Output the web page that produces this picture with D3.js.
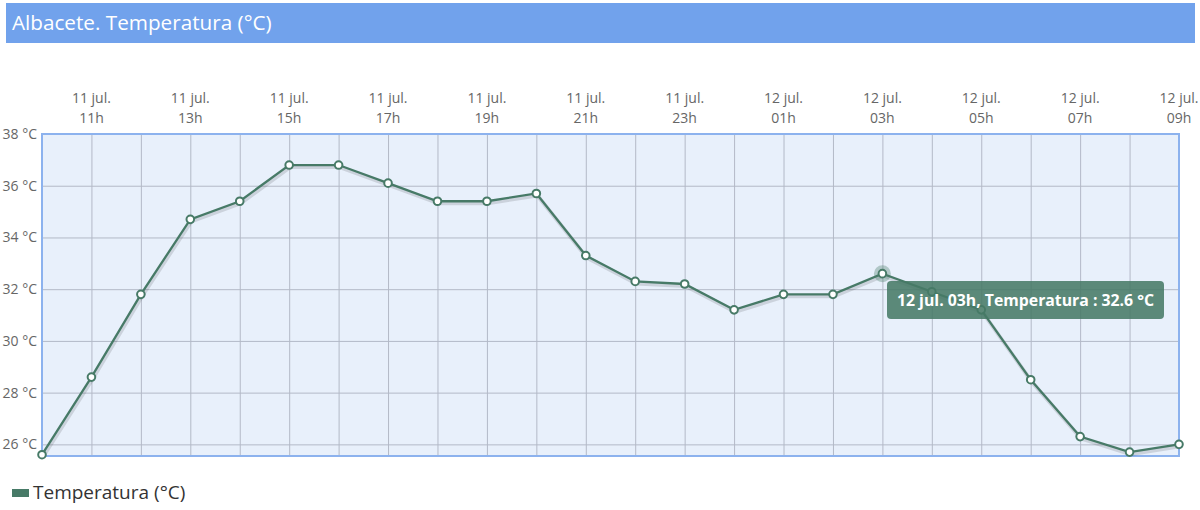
<!DOCTYPE html>
<html><head><meta charset="utf-8">
<script src="https://cdn.jsdelivr.net/npm/d3@7"></script>
<style>
body{margin:0;background:#fff;}
svg{display:block;font-family:"Open Sans",sans-serif;}
</style></head>
<body><svg id="c" width="1200" height="510"></svg>
<script>
const title = "Albacete. Temperatura (°C)";
const seriesName = "Temperatura (°C)";
const days = ["11 jul.","11 jul.","11 jul.","11 jul.","11 jul.","11 jul.","11 jul.","11 jul.","11 jul.","11 jul.","11 jul.","11 jul.","11 jul.","11 jul.",
              "12 jul.","12 jul.","12 jul.","12 jul.","12 jul.","12 jul.","12 jul.","12 jul.","12 jul.","12 jul."];
const hours = ["10h","11h","12h","13h","14h","15h","16h","17h","18h","19h","20h","21h","22h","23h",
               "00h","01h","02h","03h","04h","05h","06h","07h","08h","09h"];
const temps = [25.6,28.6,31.8,34.7,35.4,36.8,36.8,36.1,35.4,35.4,35.7,33.3,32.3,32.2,
               31.2,31.8,31.8,32.6,31.9,31.2,28.5,26.3,25.7,26.0];
const yTicks = [26,28,30,32,34,36,38];
const labelEvery = 2, labelOffset = 1;
const highlightIndex = 17;

const svg = d3.select("#c");
const m = {l:42, r:1179, t:134, b:456};
const green = "#477a67";

// title bar
svg.append("rect").attr("x",6).attr("y",3).attr("width",1189).attr("height",40).attr("fill","#71a2ec");
svg.append("text").attr("x",12).attr("y",30).attr("fill","#fff").attr("font-size",20.7).text(title);

const x = d3.scalePoint().domain(d3.range(temps.length)).range([m.l,m.r]);
const y = d3.scaleLinear().domain([25.55,38]).range([m.b,m.t]);

// plot bg
svg.append("rect").attr("x",m.l).attr("y",m.t).attr("width",m.r-m.l).attr("height",m.b-m.t).attr("fill","#e8f0fb");

// grid
const gx = svg.append("g").attr("transform",`translate(0,${m.b})`)
  .call(d3.axisBottom(x).tickSize(-(m.b-m.t)).tickFormat(""));
gx.select(".domain").remove();
gx.selectAll("line").attr("stroke","#b3b9c7").attr("stroke-width",1);
const gy = svg.append("g").attr("transform",`translate(${m.l},0)`)
  .call(d3.axisLeft(y).tickValues(yTicks).tickSize(-(m.r-m.l)).tickFormat(d=>d+" °C"));
gy.select(".domain").remove();
gy.selectAll("line").attr("stroke","#b3b9c7").attr("stroke-width",1);
gy.selectAll("text").attr("fill","#666").attr("font-size",14).attr("x",-5).attr("dy","0.32em")
  .attr("font-family","'Open Sans',sans-serif");

// border
svg.append("rect").attr("x",m.l).attr("y",m.t).attr("width",m.r-m.l).attr("height",m.b-m.t)
  .attr("fill","none").attr("stroke","#8cb2ee").attr("stroke-width",2);

// top labels
const lab = svg.append("g");
d3.range(temps.length).filter(i=>i%labelEvery===labelOffset).forEach(i=>{
  const t = lab.append("text").attr("x",x(i)).attr("text-anchor","middle").attr("fill","#666").attr("font-size",14);
  t.append("tspan").attr("x",x(i)).attr("y",103).text(days[i]);
  t.append("tspan").attr("x",x(i)).attr("y",123).text(hours[i]);
});

// line
const line = d3.line().x((d,i)=>x(i)).y(d=>y(d));
svg.append("path").datum(temps).attr("d",line).attr("fill","none").attr("stroke","#000").attr("stroke-opacity",0.12)
  .attr("stroke-width",4).attr("transform","translate(1,2)");
svg.append("path").datum(temps).attr("d",line).attr("fill","none").attr("stroke",green).attr("stroke-width",2.3);

// highlight halo
svg.append("circle").attr("cx",x(highlightIndex)).attr("cy",y(temps[highlightIndex])).attr("r",8.5)
  .attr("fill",green).attr("opacity",0.35);

svg.selectAll("circle.pt").data(temps).join("circle").attr("class","pt")
  .attr("cx",(d,i)=>x(i)).attr("cy",d=>y(d)).attr("r",3.8)
  .attr("fill","#fff").attr("stroke",green).attr("stroke-width",2);

// tooltip
const tx = 887, ty = 281, tw = 277, th = 38;
svg.append("rect").attr("x",tx).attr("y",ty).attr("width",tw).attr("height",th).attr("rx",4)
  .attr("fill",green).attr("opacity",0.88);
svg.append("text").attr("x",tx+tw/2).attr("y",ty+th/2).attr("dy","0.35em").attr("text-anchor","middle")
  .attr("fill","#fff").attr("font-size",15.8).attr("font-weight","bold")
  .text(`12 jul. ${hours[highlightIndex]}, Temperatura : ${temps[highlightIndex]} °C`);

// legend
svg.append("rect").attr("x",12).attr("y",489).attr("width",17).attr("height",8).attr("fill",green);
svg.append("text").attr("x",33).attr("y",499).attr("fill","#333").attr("font-size",19).text(seriesName);
</script></body></html>
